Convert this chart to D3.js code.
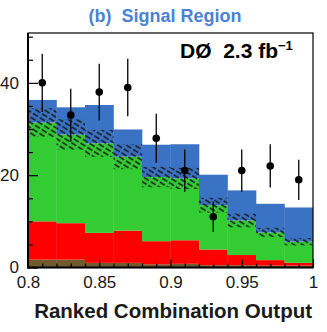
<!DOCTYPE html>
<html>
<head>
<meta charset="utf-8">
<script src="https://cdn.jsdelivr.net/npm/d3@7"></script>
<style>
  body { margin: 0; background: #fff; }
  svg { display: block; font-family: "Liberation Sans", Arial, sans-serif; }
</style>
</head>
<body>
<div id="chart"></div>
<script>
// bins of width 0.02 from 0.80 to 1.00
const binLow = [0.80, 0.82, 0.84, 0.86, 0.88, 0.90, 0.92, 0.94, 0.96, 0.98];
const binWidth = 0.02;

// stacked background components and signal (events per bin)
const brown  = [1.7, 1.7, 1.0, 1.0, 0.7, 0.8, 0.5, 0.5, 0.4, 0.4];
const red    = [8.3, 7.9, 6.5, 7.0, 5.0, 5.1, 3.4, 2.2, 1.2, 0.6];
const green  = [21.4, 19.2, 19.4, 16.0, 13.9, 13.4, 9.6, 7.5, 6.0, 4.6];
const signal = [4.9, 5.9, 8.3, 5.9, 7.0, 7.4, 6.6, 6.5, 6.2, 7.4];
// uncertainty on total background (hatched band)
const bkgErr = [3.1, 3.3, 2.9, 2.7, 2.2, 2.3, 1.6, 1.5, 1.0, 0.8];

// observed data
const dataX = [0.81, 0.83, 0.85, 0.87, 0.89, 0.91, 0.93, 0.95, 0.97, 0.99];
const dataN = [40, 33, 38, 39, 28, 21, 11, 21, 22, 19];

const xMajor = [0.8, 0.85, 0.9, 0.95, 1.0];
const xMajorLabels = ["0.8", "0.85", "0.9", "0.95", "1"];
const yMajor = [0, 20, 40];

const W = 327, H = 332;
const svg = d3.select("#chart").append("svg")
  .attr("width", W).attr("height", H);

const x = d3.scaleLinear().domain([0.8, 1.0]).range([28, 313]);
const y = d3.scaleLinear().domain([0, 50.8]).range([267.5, 33]);

const rows = binLow.map((lo, i) => ({
  lo: lo, brown: brown[i], red: red[i], green: green[i], signal: signal[i]
}));
const keys = ["brown", "red", "green", "signal"];
const colors = { brown: "#705a2e", red: "#ff0000", green: "#33cc33", signal: "#3a72c4" };
const stack = d3.stack().keys(keys)(rows);

// hatch pattern
const defs = svg.append("defs");
const pat = defs.append("pattern")
  .attr("id", "hatch")
  .attr("patternUnits", "userSpaceOnUse")
  .attr("width", 8).attr("height", 4.5)
  .attr("patternTransform", "rotate(32)");
pat.append("line")
  .attr("x1", 0).attr("y1", 2.2).attr("x2", 6).attr("y2", 2.2)
  .attr("stroke", "#141414").attr("stroke-width", 1.5);

defs.append("clipPath").attr("id", "plotclip")
  .append("rect").attr("x", 28).attr("y", 33).attr("width", 285).attr("height", 234.5);

const plot = svg.append("g").attr("clip-path", "url(#plotclip)");

stack.forEach(layer => {
  plot.append("g").selectAll("rect")
    .data(layer)
    .enter().append("rect")
    .attr("x", d => x(d.data.lo))
    .attr("width", d => x(d.data.lo + binWidth) - x(d.data.lo) + 0.3)
    .attr("y", d => y(d[1]))
    .attr("height", d => y(d[0]) - y(d[1]))
    .attr("fill", colors[layer.key]);
});

// hatched background uncertainty band
const bkgTop = rows.map(r => r.brown + r.red + r.green);
plot.append("g").selectAll("rect")
  .data(rows)
  .enter().append("rect")
  .attr("x", d => x(d.lo))
  .attr("width", d => x(d.lo + binWidth) - x(d.lo))
  .attr("y", (d, i) => y(bkgTop[i] + bkgErr[i]))
  .attr("height", (d, i) => y(bkgTop[i] - bkgErr[i]) - y(bkgTop[i] + bkgErr[i]))
  .attr("fill", "url(#hatch)");

// data points with sqrt(N) errors
const pts = dataX.map((v, i) => ({ x: v, n: dataN[i], e: Math.sqrt(dataN[i]) }));
svg.append("g").selectAll("line")
  .data(pts)
  .enter().append("line")
  .attr("x1", d => x(d.x)).attr("x2", d => x(d.x))
  .attr("y1", d => y(d.n + d.e)).attr("y2", d => y(d.n - d.e))
  .attr("stroke", "#000").attr("stroke-width", 1.3);
svg.append("g").selectAll("circle")
  .data(pts)
  .enter().append("circle")
  .attr("cx", d => x(d.x)).attr("cy", d => y(d.n))
  .attr("r", 3.8).attr("fill", "#000");

// axes
const yMinor = d3.range(0, 51, 5).filter(v => yMajor.indexOf(v) < 0);
const xMinor = d3.range(0, 21).map(i => 0.8 + i * 0.01).filter(v => !xMajor.some(m => Math.abs(m - v) < 1e-6));

const gy = svg.append("g").attr("transform", "translate(28,0)")
  .call(d3.axisLeft(y).tickValues(yMajor).tickSizeInner(-10).tickSizeOuter(0).tickPadding(9));
const gyMinor = svg.append("g").attr("transform", "translate(28,0)")
  .call(d3.axisLeft(y).tickValues(yMinor).tickSizeInner(-5).tickSizeOuter(0).tickFormat(""));
const gx = svg.append("g").attr("transform", "translate(0,267.5)")
  .call(d3.axisBottom(x).tickValues(xMajor).tickFormat((d, i) => xMajorLabels[i])
    .tickSizeInner(-8).tickSizeOuter(0).tickPadding(8.5));
const gxMinor = svg.append("g").attr("transform", "translate(0,267.5)")
  .call(d3.axisBottom(x).tickValues(xMinor).tickSizeInner(-4).tickSizeOuter(0).tickFormat(""));

[gy, gyMinor, gx, gxMinor].forEach(g => {
  g.select(".domain").remove();
  g.selectAll(".tick line").attr("stroke", "#000").attr("stroke-width", 1.2);
  g.selectAll("text").attr("font-size", 17).attr("fill", "#1a1a1a")
    .attr("font-family", "'Liberation Sans', Arial, sans-serif");
});

// frame
svg.append("rect").attr("x", 28).attr("y", 33).attr("width", 285).attr("height", 234.5)
  .attr("fill", "none").attr("stroke", "#000").attr("stroke-width", 1.2);
svg.append("line").attr("x1", 28).attr("x2", 28).attr("y1", 33).attr("y2", 268.5)
  .attr("stroke", "#000").attr("stroke-width", 2);
svg.append("line").attr("x1", 27).attr("x2", 313.5).attr("y1", 267.5).attr("y2", 267.5)
  .attr("stroke", "#000").attr("stroke-width", 2);

// titles
svg.append("text").attr("x", 165).attr("y", 22).attr("text-anchor", "middle")
  .attr("font-size", 18).attr("font-weight", "bold").attr("fill", "#4a82d4")
  .text("(b)\u00a0\u00a0Signal Region");

const lumi = svg.append("text").attr("x", 180).attr("y", 58)
  .attr("font-size", 21).attr("font-weight", "bold").attr("fill", "#000");
lumi.append("tspan").text("DØ\u00a0\u00a02.3 fb");
lumi.append("tspan").attr("dy", -8).attr("font-size", 13).text("−1");

svg.append("text").attr("x", 312).attr("y", 318).attr("text-anchor", "end")
  .attr("font-size", 20.5).attr("font-weight", "bold").attr("fill", "#1a1a1a")
  .text("Ranked Combination Output");
</script>
</body>
</html>
